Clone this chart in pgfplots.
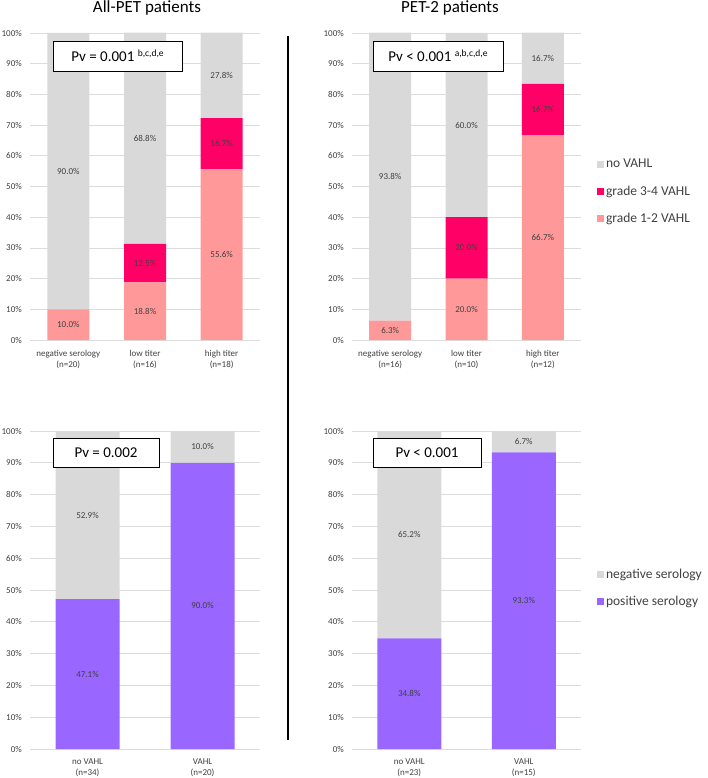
\documentclass[border=0pt]{standalone}
\usepackage{pgfplots}
\pgfplotsset{compat=1.18}
\usepackage{fontspec}
\setmainfont{Carlito}
\definecolor{cgray}{HTML}{D9D9D9}
\definecolor{cpink}{HTML}{FF0066}
\definecolor{clight}{HTML}{FF9999}
\definecolor{cpurple}{HTML}{9966FF}
\definecolor{cgrid}{HTML}{DDDDDD}
\definecolor{ctext}{HTML}{404040}
\tikzset{lab/.style={font=\fontsize{9}{10}\selectfont, text=ctext}}
\pgfplotsset{
  panel/.style={
    scale only axis,
    ybar stacked,
    ymin=0, ymax=100,
    ytick={0,10,...,100},
    yticklabels={0\%,10\%,20\%,30\%,40\%,50\%,60\%,70\%,80\%,90\%,100\%},
    ymajorgrids,
    grid style={cgrid, line width=0.8pt},
    axis line style={draw=none},
    major tick length=0pt,
    yticklabel style={font=\fontsize{9}{10}\selectfont, text=ctext, inner sep=0pt, xshift=-8pt},
    xticklabel style={font=\fontsize{9}{10.8}\selectfont, text=ctext, align=center, inner sep=0pt, yshift=-10pt},
    xtick=data,
    legend style={draw=none, fill=none, font=\fontsize{13.5}{16}\selectfont, text=ctext,
      cells={anchor=west}, row sep=12.5pt, inner sep=0pt, outer sep=0pt},
    legend image code/.code={\fill[##1] (0pt,-3.5pt) rectangle (7pt,3.5pt);},
    reverse legend,
  },
}
\begin{document}
\begin{tikzpicture}
\useasboundingbox (0,0) rectangle (708pt,-778pt);

% ---------- Top-left: All-PET ----------
\begin{axis}[panel, at={(30pt,-340pt)}, anchor=south west, width=230pt, height=307pt,
  xmin=-0.5, xmax=2.5, bar width=42pt,
  xticklabels={{negative serology\\(n=20)},{low titer\\(n=16)},{high titer\\(n=18)}}]
\addplot[fill=clight, draw=none] coordinates {(0,10.0) (1,18.8) (2,55.6)};
\addplot[fill=cpink, draw=none] coordinates {(0,0) (1,12.5) (2,16.7)};
\addplot[fill=cgray, draw=none] coordinates {(0,90.0) (1,68.8) (2,27.8)};
\coordinate (A1) at (axis cs:0,5.0);
\coordinate (A2) at (axis cs:0,55.0);
\coordinate (A3) at (axis cs:1,9.4);
\coordinate (A4) at (axis cs:1,25.05);
\coordinate (A5) at (axis cs:1,65.65);
\coordinate (A6) at (axis cs:2,27.8);
\coordinate (A7) at (axis cs:2,63.95);
\coordinate (A8) at (axis cs:2,86.15);
\end{axis}
\node[lab] at (A1) {10.0\%};
\node[lab] at (A2) {90.0\%};
\node[lab] at (A3) {18.8\%};
\node[lab] at (A4) {12.5\%};
\node[lab] at (A5) {68.8\%};
\node[lab] at (A6) {55.6\%};
\node[lab] at (A7) {16.7\%};
\node[lab] at (A8) {27.8\%};

% ---------- Top-right: PET-2 ----------
\begin{axis}[panel, at={(352pt,-340pt)}, anchor=south west, width=229pt, height=307pt,
  xmin=-0.5, xmax=2.5, bar width=42pt,
  xticklabels={{negative serology\\(n=16)},{low titer\\(n=10)},{high titer\\(n=12)}},
  legend style={at={(1.07,0.595)}, anchor=north west}]
\addplot[fill=clight, draw=none] coordinates {(0,6.3) (1,20.0) (2,66.7)};
\addlegendentry{grade 1-2 VAHL}
\addplot[fill=cpink, draw=none] coordinates {(0,0) (1,20.0) (2,16.7)};
\addlegendentry{grade 3-4 VAHL}
\addplot[fill=cgray, draw=none] coordinates {(0,93.8) (1,60.0) (2,16.7)};
\addlegendentry{no VAHL}
\coordinate (B1) at (axis cs:0,3.15);
\coordinate (B2) at (axis cs:0,53.15);
\coordinate (B3) at (axis cs:1,10);
\coordinate (B4) at (axis cs:1,30);
\coordinate (B5) at (axis cs:1,70);
\coordinate (B6) at (axis cs:2,33.35);
\coordinate (B7) at (axis cs:2,75.05);
\coordinate (B8) at (axis cs:2,91.7);
\end{axis}
\node[lab] at (B1) {6.3\%};
\node[lab] at (B2) {93.8\%};
\node[lab] at (B3) {20.0\%};
\node[lab] at (B4) {20.0\%};
\node[lab] at (B5) {60.0\%};
\node[lab] at (B6) {66.7\%};
\node[lab] at (B7) {16.7\%};
\node[lab] at (B8) {16.7\%};

% ---------- Bottom-left ----------
\begin{axis}[panel, at={(30pt,-749pt)}, anchor=south west, width=230pt, height=318pt,
  xmin=-0.5, xmax=1.5, bar width=64pt,
  xticklabels={{no VAHL\\(n=34)},{VAHL\\(n=20)}}]
\addplot[fill=cpurple, draw=none] coordinates {(0,47.1) (1,90.0)};
\addplot[fill=cgray, draw=none] coordinates {(0,52.9) (1,10.0)};
\coordinate (C1) at (axis cs:0,23.55);
\coordinate (C2) at (axis cs:0,73.55);
\coordinate (C3) at (axis cs:1,45);
\coordinate (C4) at (axis cs:1,95);
\end{axis}
\node[lab] at (C1) {47.1\%};
\node[lab] at (C2) {52.9\%};
\node[lab] at (C3) {90.0\%};
\node[lab] at (C4) {10.0\%};

% ---------- Bottom-right ----------
\begin{axis}[panel, at={(352pt,-749pt)}, anchor=south west, width=229pt, height=318pt,
  xmin=-0.5, xmax=1.5, bar width=64pt,
  xticklabels={{no VAHL\\(n=23)},{VAHL\\(n=15)}},
  legend style={at={(1.07,0.572)}, anchor=north west}]
\addplot[fill=cpurple, draw=none] coordinates {(0,34.8) (1,93.3)};
\addlegendentry{positive serology}
\addplot[fill=cgray, draw=none] coordinates {(0,65.2) (1,6.7)};
\addlegendentry{negative serology}
\coordinate (D1) at (axis cs:0,17.4);
\coordinate (D2) at (axis cs:0,67.4);
\coordinate (D3) at (axis cs:1,46.65);
\coordinate (D4) at (axis cs:1,96.65);
\end{axis}
\node[lab] at (D1) {34.8\%};
\node[lab] at (D2) {65.2\%};
\node[lab] at (D3) {93.3\%};
\node[lab] at (D4) {6.7\%};

% titles
\node[anchor=base, font=\fontsize{17}{20}\selectfont] at (147pt,-12.7pt) {All-PET patients};
\node[anchor=base, font=\fontsize{17}{20}\selectfont] at (450pt,-12.7pt) {PET-2 patients};

% separator
\draw[line width=1.3pt] (288pt,-36pt) -- (288pt,-740pt);

% p-value boxes
\node[draw=black, line width=0.9pt, fill=white, minimum width=129pt, minimum height=30pt, inner sep=0pt,
  font=\fontsize{15}{18}\selectfont] at (117.5pt,-56pt)
  {Pv = 0.001\ \raisebox{4.5pt}{\fontsize{9.5}{11}\selectfont b,c,d,e}};
\node[draw=black, line width=0.9pt, fill=white, minimum width=130pt, minimum height=30pt, inner sep=0pt,
  font=\fontsize{15}{18}\selectfont] at (438pt,-56pt)
  {Pv < 0.001\ \raisebox{4.5pt}{\fontsize{9.5}{11}\selectfont a,b,c,d,e}};
\node[draw=black, line width=0.9pt, fill=white, minimum width=106pt, minimum height=29pt, inner sep=0pt,
  font=\fontsize{15}{18}\selectfont] at (106pt,-452.5pt) {Pv = 0.002};
\node[draw=black, line width=0.9pt, fill=white, minimum width=108pt, minimum height=29pt, inner sep=0pt,
  font=\fontsize{15}{18}\selectfont] at (427pt,-452.5pt) {Pv < 0.001};
\end{tikzpicture}
\end{document}
